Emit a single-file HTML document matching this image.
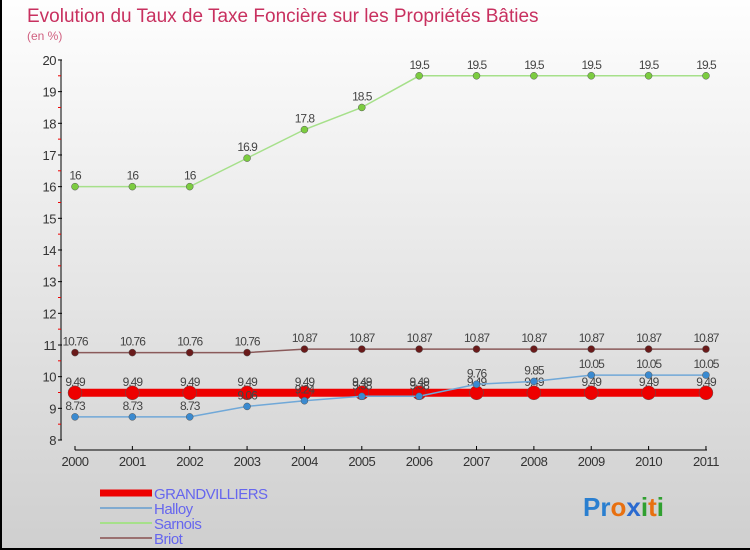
<!DOCTYPE html>
<html><head><meta charset="utf-8"><style>
body{margin:0}
#c{width:750px;height:550px;position:relative;box-sizing:border-box;border:2px solid #000;border-top:none;border-right:none;background:linear-gradient(#fefefe,#cfcfcf);font-family:"Liberation Sans",sans-serif;overflow:hidden}
</style></head><body>
<div id="c">
<svg id="s" width="750" height="550" style="position:absolute;left:-2px;top:0"></svg>
</div>
<script>
const years=['2000','2001','2002','2003','2004','2005','2006','2007','2008','2009','2010','2011'];
const grandvilliers=[9.49,9.49,9.49,9.49,9.49,9.49,9.49,9.49,9.49,9.49,9.49,9.49];
const halloy=[8.73,8.73,8.73,9.06,9.24,9.38,9.38,9.76,9.85,10.05,10.05,10.05];
const sarnois=[16,16,16,16.9,17.8,18.5,19.5,19.5,19.5,19.5,19.5,19.5];
const briot=[10.76,10.76,10.76,10.76,10.87,10.87,10.87,10.87,10.87,10.87,10.87,10.87];
const yTicks=[8,9,10,11,12,13,14,15,16,17,18,19,20];
const NS='http://www.w3.org/2000/svg',s=document.getElementById('s');
const X=i=>75+i*57.36, Y=v=>440-(v-8)*31.67;
function el(t,a,txt){const e=document.createElementNS(NS,t);for(const k in a)e.setAttribute(k,a[k]);if(txt!=null)e.textContent=txt;s.appendChild(e);return e;}
let e;
e=el('text',{x:27,y:22,'font-size':19,fill:'#c8305f'},'Evolution du Taux de Taxe Foncière sur les Propriétés Bâties');

e=el('text',{x:27,y:40,'font-size':12,fill:'#d06080'},'(en %)');

e=el('line',{x1:61,y1:60,x2:61,y2:440,stroke:'#000'});

e=el('line',{x1:75,y1:450,x2:707,y2:450,stroke:'#000'});

yTicks.forEach((v,i)=>{
 e=el('line',{x1:58,y1:Y(v),x2:62,y2:Y(v),stroke:'#000'});
 
 if(i<yTicks.length-1){e=el('line',{x1:58,y1:Y(v+0.5),x2:61,y2:Y(v+0.5),stroke:'#e00'});
 }
 e=el('text',{x:56,y:Y(v)+5,'font-size':13,fill:'#333','text-anchor':'end','letter-spacing':'-0.5'},String(v));
 
});
years.forEach((y,i)=>{
 e=el('line',{x1:X(i),y1:446,x2:X(i),y2:450,stroke:'#000'});
 
 e=el('text',{x:X(i),y:466,'font-size':13,fill:'#333','text-anchor':'middle','letter-spacing':'-0.5'},y);
 
});
function series(name,data,col,w,r,dot){
 e=el('polyline',{points:data.map((v,i)=>X(i)+','+Y(v)).join(' '),fill:'none',stroke:col,'stroke-width':w});
 
 data.forEach((v,i)=>{
  e=el('circle',{cx:X(i),cy:Y(v),r:r,fill:dot,stroke:'#555','stroke-width':0.5});
  
  e=el('text',{x:X(i),y:Y(v)-7,'font-size':12,fill:'#444','text-anchor':'middle','letter-spacing':'-1'},String(v));
  
 });
}
series('sarnois',sarnois,'#a6e08a',1.5,3.5,'#7ccc40');
series('briot',briot,'#8a5a5a',1.5,3.5,'#6a1a1a');
series('grandvilliers',grandvilliers,'#ee0000',8,7,'#ee0000');
series('halloy',halloy,'#70a8d8',1.5,3.5,'#3a8ad0');
const legend=[['GRANDVILLIERS','#ee0000',7],['Halloy','#80aad0',2],['Sarnois','#a6e08a',2],['Briot','#9a7070',2]];
legend.forEach((l,i)=>{
 const y=493+i*15;
 e=el('line',{x1:100,y1:y,x2:152,y2:y,stroke:l[1],'stroke-width':l[2]});
 
 e=el('text',{x:154,y:y+6,'font-size':15,fill:'#6666ee','letter-spacing':'-0.5'},l[0]);
 
});
e=el('text',{x:583,y:516,'font-size':26,'font-weight':'bold',fill:'#2a7fd0'});

[['Pr','#2a7fd0'],['o','#e87010'],['x','#2a6ad0'],['i','#30a030'],['t','#e87010'],['i','#30a030']].forEach(p=>{const t=document.createElementNS(NS,'tspan');t.setAttribute('fill',p[1]);t.textContent=p[0];e.appendChild(t);});
</script>
</body></html>
